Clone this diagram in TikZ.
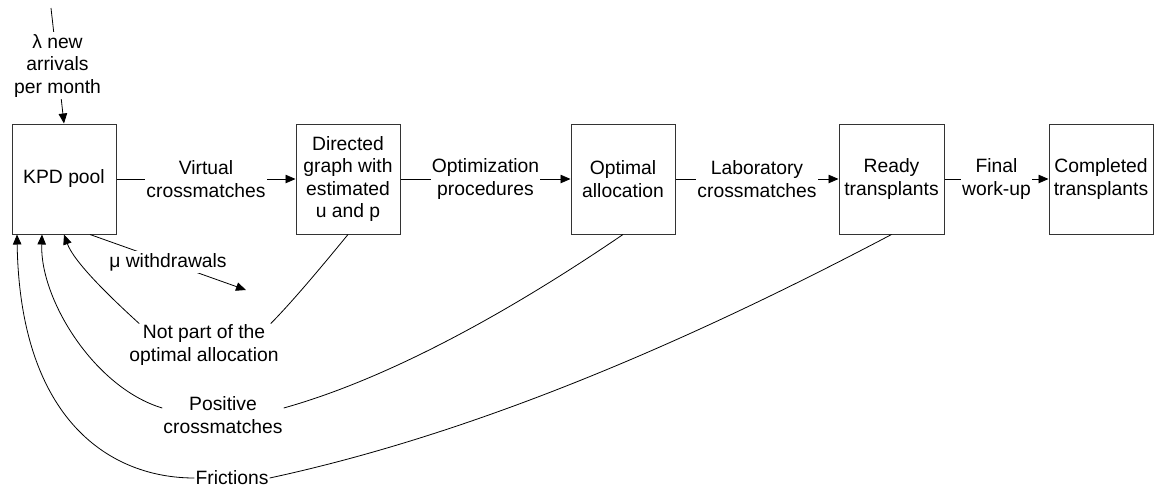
\documentclass[tikz,border=0pt]{standalone}
\usepackage{fontspec}
\setmainfont{Liberation Sans}
\usetikzlibrary{arrows.meta,calc}
\begin{document}
\begin{tikzpicture}[x=1pt,y=-1pt,
  font=\fontsize{19.3}{22.5}\selectfont,
  box/.style={draw=black!80, line width=1pt, minimum width=104pt, minimum height=110pt, inner sep=0pt, align=center},
  lbl/.style={fill=white, inner xsep=1pt, inner ysep=2pt, align=center},
  free/.style={inner sep=1pt, align=center},
  conn/.style={line width=0.8pt, black},
  arr/.style={conn, -{Triangle[length=10pt,width=8.5pt]}}]
\useasboundingbox (0,0) rectangle (1154,493);

% boxes
\node[box] (kpd) at (64,179) {KPD pool};
\node[box] (dg) at (348,179) {Directed\\graph with\\estimated\\u and p};
\node[box] (oa) at (623,179) {Optimal\\allocation};
\node[box, minimum width=105pt] (rt) at (891.5,179) {Ready\\transplants};
\node[box] (ct) at (1101,179) {Completed\\transplants};

% main flow
\draw[arr] (kpd) -- node[lbl]{Virtual\\crossmatches} (dg);
\draw[arr] (dg) -- node[lbl]{Optimization\\procedures} (oa);
\draw[arr] (oa) -- node[lbl]{Laboratory\\crossmatches} (rt);
\draw[arr] (rt) -- node[lbl]{Final\\work-up} (ct);

% arrivals
\coordinate (src) at (51,8);
\draw[arr] (src) -- node[lbl]{λ new\\arrivals\\per month} (kpd.north);

% withdrawals
\coordinate (wd) at (246,290);
\draw[arr] ($(kpd.south)+(26,0)$) -- node[lbl]{μ withdrawals} (wd);

% not part of the optimal allocation
\node[free] (np) at (204,345) {Not part of the\\optimal allocation};
\draw[conn] (dg.south) .. controls (323,265) and (293,301) .. ($(np.north east)+(-9,0)$);
\draw[arr] ($(np.north west)+(11,0)$) .. controls (110,297) and (74,262) .. (kpd.south);

% positive crossmatches
\node[free] (pc) at (223,415) {Positive\\crossmatches};
\draw[conn] (oa.south) .. controls (524,302) and (398,376) .. ($(pc.east)+(0,-7)$);
\draw[arr] ($(pc.west)+(0,-7)$) .. controls (95,388) and (40,300) .. ($(kpd.south)+(-22,0)$);

% frictions
\node[free] (fr) at (232,478) {Frictions};
\draw[conn] (rt.south) .. controls (697,337) and (483,432) .. (fr.east);
\draw[arr] (fr.west) .. controls (110,478) and (20,420) .. ($(kpd.south)+(-47,0)$);
\end{tikzpicture}
\end{document}
